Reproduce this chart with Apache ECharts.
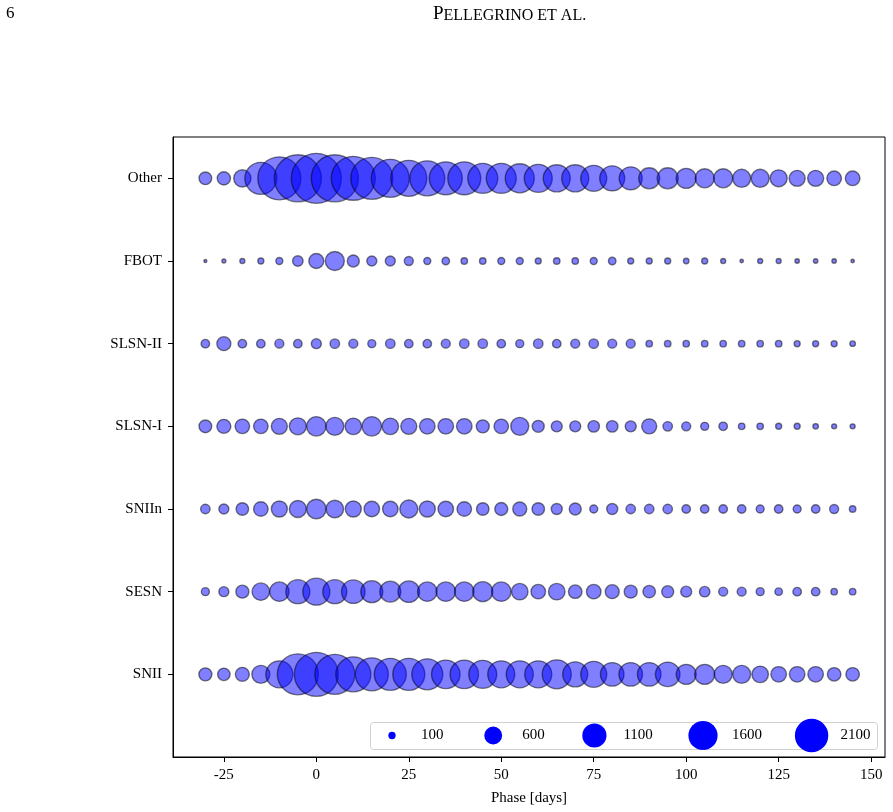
<!DOCTYPE html>
<html>
<head>
<meta charset="utf-8">
<script src="https://cdn.jsdelivr.net/npm/echarts@6/dist/echarts.min.js"></script>
<style>
  html, body { margin: 0; background: #fff; }
  #chart { width: 893px; height: 812px; }
</style>
</head>
<body>
<div id="chart"></div>
<script>
// phase grid (days) and class names, bottom to top
const phases = [-30, -25, -20, -15, -10, -5, 0, 5, 10, 15, 20, 25, 30, 35, 40, 45, 50, 55,
  60, 65, 70, 75, 80, 85, 90, 95, 100, 105, 110, 115, 120, 125, 130, 135, 140, 145];
const categories = ["SNII", "SESN", "SNIIn", "SLSN-I", "SLSN-II", "FBOT", "Other"];

// number of objects per phase bin, one array per class
const snII = [317, 293, 368, 608, 1368, 3155, 3634, 3003, 2299, 2044, 1922, 1922, 1804, 1525, 1525, 1472, 1368, 1368,
  1368, 1579, 1173, 1269, 1037, 1037, 1037, 1127, 751, 751, 608, 608, 511, 451, 451, 451, 342, 342];
const sesn = [120, 188, 317, 575, 714, 1081, 1368, 1081, 1037, 908, 828, 868, 714, 714, 714, 751, 714, 511,
  395, 511, 342, 395, 368, 317, 293, 270, 227, 207, 152, 152, 120, 106, 136, 136, 79, 79];
const snIIn = [169, 188, 293, 395, 480, 542, 714, 575, 480, 451, 451, 608, 480, 451, 395, 293, 317, 368,
  293, 227, 270, 120, 227, 169, 169, 169, 136, 136, 136, 136, 120, 136, 120, 136, 152, 79];
const slsnI = [303, 368, 395, 395, 480, 542, 714, 608, 511, 714, 511, 480, 451, 451, 451, 317, 395, 608,
  270, 227, 227, 248, 248, 227, 422, 169, 152, 120, 136, 79, 79, 68, 68, 57, 47, 47];
const slsnII = [136, 368, 136, 136, 152, 136, 188, 169, 152, 120, 169, 136, 136, 152, 169, 169, 136, 120,
  169, 136, 152, 169, 152, 152, 79, 79, 79, 79, 79, 79, 79, 79, 68, 68, 68, 57];
const fbot = [17, 30, 47, 68, 92, 207, 422, 677, 270, 188, 188, 152, 92, 106, 79, 79, 92, 92,
  68, 79, 79, 92, 106, 68, 68, 68, 57, 68, 47, 23, 47, 47, 38, 38, 38, 23];
const other = [300, 330, 560, 1920, 3470, 4150, 4690, 4150, 3630, 3310, 2710, 2430, 2300, 2040, 2040, 1690, 1690, 1580,
  1470, 1370, 1370, 1270, 1170, 990, 830, 830, 750, 680, 680, 610, 610, 540, 480, 480, 400, 400];

const xTicks = [-25, 0, 25, 50, 75, 100, 125, 150];
const yTicks = [0, 1, 2, 3, 4, 5, 6];
const legendSizes = [100, 600, 1100, 1600, 2100];

const counts = [snII, sesn, snIIn, slsnI, slsnII, fbot, other];
const font = "Liberation Serif";
// marker diameter in px grows with sqrt of the count (area ~ count)
const sizeOf = n => 0.73 * Math.sqrt(n);

const series = counts.map((row, k) => ({
  type: "scatter",
  name: categories[k],
  data: phases.map((p, i) => [p, k, row[i]]),
  symbolSize: v => sizeOf(v[2]),
  itemStyle: { color: "rgba(0,0,255,0.5)", borderColor: "rgba(0,0,0,0.5)", borderWidth: 1.4, opacity: 1 },
  emphasis: { disabled: true },
}));

// size legend, laid out like matplotlib: marker, label, gap
const legendItems = [];
let lx = 392;
legendSizes.forEach(s => {
  legendItems.push({
    type: "circle", shape: { cx: lx, cy: 735.5, r: sizeOf(s) / 2 },
    style: { fill: "#0000ff" }, z: 10,
  });
  legendItems.push({
    type: "text", x: lx + 29, y: 735.5, z: 10,
    style: { text: String(s), font: `15px "${font}"`, fill: "#000", verticalAlign: "middle" },
  });
  lx += 29 + String(s).length * 7.4 + 50;
});

const chart = echarts.init(document.getElementById("chart"));
chart.setOption({
  animation: false,
  textStyle: { fontFamily: font },
  grid: { left: 173, right: 8, top: 137, bottom: 55, show: true, borderColor: "#000", borderWidth: 1 },
  xAxis: {
    type: "value", min: -38.75, max: 153.75,
    name: "Phase [days]", nameLocation: "middle", nameGap: 34,
    nameTextStyle: { fontFamily: font, fontSize: 15, color: "#000" },
    axisLine: { onZero: false, lineStyle: { color: "#000", width: 1 } },
    axisTick: { customValues: xTicks, length: 5, lineStyle: { color: "#000" } },
    axisLabel: { customValues: xTicks, margin: 11, fontSize: 15, color: "#000", fontFamily: font },
    splitLine: { show: false },
  },
  yAxis: {
    type: "value", min: -1, max: 6.5,
    axisLine: { onZero: false, lineStyle: { color: "#000", width: 1 } },
    axisTick: { customValues: yTicks, length: 5, lineStyle: { color: "#000" } },
    axisLabel: {
      customValues: yTicks, margin: 11, fontSize: 15, color: "#000", fontFamily: font,
      formatter: v => categories[v],
    },
    splitLine: { show: false },
  },
  series: series,
  graphic: [
    {
      type: "text", x: 6, y: 14,
      style: { text: "6", font: `17px "${font}"`, fill: "#000", verticalAlign: "middle" },
    },
    {
      type: "text", x: 433, y: 14,
      style: {
        text: "{a|P}{b|ELLEGRINO ET AL.}", verticalAlign: "middle", fill: "#000",
        rich: {
          a: { fontFamily: font, fontSize: 19, verticalAlign: "bottom" },
          b: { fontFamily: font, fontSize: 16, verticalAlign: "bottom" },
        },
      },
    },
    {
      type: "rect", z: 9,
      shape: { x: 370.5, y: 722.5, width: 507, height: 27, r: 3 },
      style: { fill: "rgba(255,255,255,0.8)", stroke: "#d0d0d0", lineWidth: 1 },
    },
    ...legendItems,
  ],
});
</script>
</body>
</html>
